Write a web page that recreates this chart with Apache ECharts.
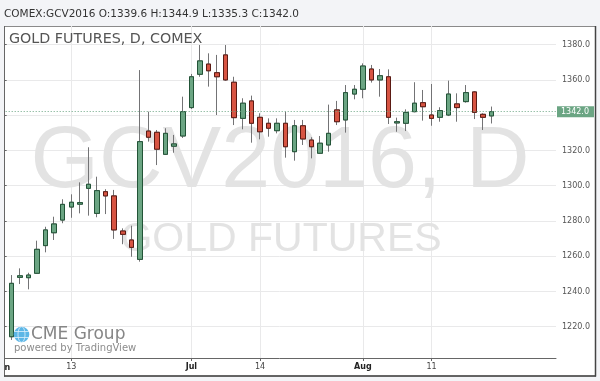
<!DOCTYPE html>
<html><head><meta charset="utf-8">
<script src="https://cdn.jsdelivr.net/npm/echarts@6/dist/echarts.min.js"></script>
<style>html,body{margin:0;padding:0;background:#f3f4f7}#c{width:600px;height:381px}</style>
</head><body><div id="c"></div>
<script>
const symbolName = 'COMEX:GCV2016';
const chartTitle = 'GOLD FUTURES, D, COMEX';
const watermarkMain = 'GCV2016, D';
const watermarkSub = 'GOLD FUTURES';
const dates = [
 '2016-06-01','2016-06-02','2016-06-03','2016-06-06','2016-06-07','2016-06-08','2016-06-09','2016-06-10',
 '2016-06-13','2016-06-14','2016-06-15','2016-06-16','2016-06-17','2016-06-20','2016-06-21','2016-06-22',
 '2016-06-23','2016-06-24','2016-06-27','2016-06-28','2016-06-29','2016-06-30',
 '2016-07-01','2016-07-05','2016-07-06','2016-07-07','2016-07-08','2016-07-11','2016-07-12','2016-07-13',
 '2016-07-14','2016-07-15','2016-07-18','2016-07-19','2016-07-20','2016-07-21','2016-07-22','2016-07-25',
 '2016-07-26','2016-07-27','2016-07-28','2016-07-29',
 '2016-08-01','2016-08-02','2016-08-03','2016-08-04','2016-08-05','2016-08-08','2016-08-09','2016-08-10',
 '2016-08-11','2016-08-12','2016-08-15','2016-08-16','2016-08-17','2016-08-18','2016-08-19','2016-08-22'
];
const opens = [
 1217.5,1214.3,1248.0,1247.8,1250.3,1266.0,1273.3,1280.5,1287.9,1289.5,1298.5,1284.3,1296.6,1294.2,1274.3,1269.2,
 1258.2,1331.0,1330.3,1317.8,1322.4,1328.2,
 1344.3,1363.2,1369.0,1364.1,1374.2,1358.7,1338.2,1348.1,1338.8,1335.4,1331.2,1335.4,1319.3,1334.0,1325.9,1318.4,
 1323.1,1343.0,1337.3,1352.0,
 1354.7,1366.2,1360.0,1361.8,1335.6,1335.4,1342.0,1347.1,1340.1,1338.8,1340.1,1346.4,1347.7,1353.2,1340.5,1339.6
];
const closes = [
 1214.3,1244.6,1248.9,1249.3,1263.9,1274.9,1278.3,1289.4,1290.6,1290.4,1300.8,1297.2,1294.2,1274.9,1272.4,1265.0,
 1325.0,1327.5,1320.7,1329.7,1323.7,1342.0,
 1361.8,1370.8,1365.2,1361.8,1360.0,1338.6,1346.8,1335.4,1330.6,1332.6,1335.4,1322.1,1334.0,1326.5,1322.1,1324.1,
 1329.7,1336.3,1352.8,1354.7,
 1367.9,1360.0,1362.4,1338.8,1336.3,1341.6,1346.8,1344.8,1338.2,1342.6,1352.0,1344.3,1352.8,1341.6,1338.8,1342.0
];
const lows = [
 1212.0,1212.5,1244.2,1241.2,1250.0,1262.2,1269.2,1278.7,1281.8,1284.3,1283.0,1282.1,1283.9,1269.8,1266.8,1259.7,
 1256.9,1325.0,1311.7,1317.4,1318.7,1327.1,
 1343.5,1361.8,1356.2,1340.1,1359.5,1334.4,1332.0,1324.4,1326.3,1327.8,1329.7,1315.9,1314.2,1323.1,1315.5,1318.0,
 1319.3,1334.4,1330.1,1349.0,
 1349.6,1358.5,1350.5,1335.0,1330.6,1331.0,1341.6,1336.9,1334.0,1336.3,1339.5,1336.3,1347.1,1337.8,1331.6,1335.3
];
const highs = [
 1220.0,1249.3,1253.1,1250.6,1268.8,1276.7,1282.4,1292.3,1295.1,1301.9,1321.8,1305.1,1298.0,1297.6,1275.8,1277.3,
 1365.6,1342.0,1331.6,1332.6,1328.8,1350.5,
 1363.4,1379.8,1375.1,1374.2,1379.8,1361.8,1349.6,1351.1,1341.1,1338.2,1338.2,1342.0,1337.3,1337.3,1327.5,1328.2,
 1346.0,1348.1,1357.1,1357.1,
 1369.4,1368.5,1366.2,1366.0,1338.6,1343.3,1358.7,1354.3,1357.7,1344.5,1359.6,1352.4,1357.1,1353.7,1341.1,1344.9
];
const yTicks = [1220, 1240, 1260, 1280, 1300, 1320, 1340, 1360, 1380];
const xTickDates = ['2016-06-01','2016-06-13','2016-07-01','2016-07-14','2016-08-01','2016-08-11'];
const xTickLabels = ['Jun','13','Jul','14','Aug','11'];
const monthLabels = ['Jun','Jul','Aug'];

const UP = '#6ba583', DOWN = '#d75442', UPB = '#225437', DOWNB = '#5b1a13', WICK = '#737375';
const BG = '#f3f4f7';
const FONT = 'DejaVu Sans';

const n = dates.length;
const last = n - 1;
const fullData = dates.map((d, i) => [i, opens[i], closes[i], lows[i], highs[i]]);
const bodyData = dates.map((d, i) => [i, opens[i], closes[i], Math.min(opens[i], closes[i]), Math.max(opens[i], closes[i])]);
const xTickIdx = xTickDates.map(d => dates.indexOf(d));
// the first tick label sits at the clipped left edge; it is drawn separately so that it is cut like the original
const xLabelIdx = xTickIdx.slice(1);
const header = symbolName + ' O:' + opens[last].toFixed(1) + ' H:' + highs[last].toFixed(1) +
  ' L:' + lows[last].toFixed(1) + ' C:' + closes[last].toFixed(1);

const chart = echarts.init(document.getElementById('c'), null, {renderer: 'canvas'});
chart.setOption({
  backgroundColor: BG,
  animation: false,
  grid: {left: 2.7, right: 44, top: 26, bottom: 23, containLabel: false},
  xAxis: {
    type: 'value', min: 0, max: 64.52,
    axisLine: {onZero: false, lineStyle: {color: '#666', width: 1}},
    axisTick: {show: true, length: 3, lineStyle: {color: '#666'}, customValues: xTickIdx},
    axisLabel: {
      customValues: xLabelIdx, margin: 5, fontSize: 8, color: '#444', fontFamily: FONT,
      formatter: v => {
        const k = xTickIdx.indexOf(Math.round(v));
        const t = k >= 0 ? xTickLabels[k] : '';
        return monthLabels.indexOf(t) >= 0 ? '{b|' + t + '}' : t;
      },
      rich: {b: {fontWeight: 'bold', fontSize: 8, color: '#222', fontFamily: FONT}}
    },
    splitLine: {show: true, lineStyle: {color: '#e9e9ea', width: 1}}
  },
  yAxis: {
    type: 'value', position: 'right', min: 1202.24, max: 1390.6, scale: true,
    axisLine: {show: true, lineStyle: {color: '#666', width: 1}},
    axisTick: {show: true, length: 4, lineStyle: {color: '#666'}, customValues: yTicks},
    axisLabel: {customValues: yTicks, margin: 6, fontSize: 8, color: '#555', fontFamily: FONT,
      formatter: v => v.toFixed(1)},
    splitLine: {show: true, lineStyle: {color: '#e9e9ea', width: 1}}
  },
  series: [
    {
      type: 'candlestick', name: 'wick', data: fullData, barWidth: 5,
      encode: {x: 0, y: [1, 2, 3, 4]},
      itemStyle: {color: 'rgba(0,0,0,0)', color0: 'rgba(0,0,0,0)', borderColor: WICK, borderColor0: WICK, borderWidth: 1},
      silent: true
    },
    {
      type: 'candlestick', name: 'body', data: bodyData, barWidth: 5,
      encode: {x: 0, y: [1, 2, 3, 4]},
      itemStyle: {color: UP, color0: DOWN, borderColor: UPB, borderColor0: DOWNB, borderWidth: 1},
      silent: true,
      markLine: {
        silent: true, symbol: ['none', 'none'], animation: false,
        lineStyle: {color: UP, type: [1, 2], width: 1},
        label: {show: true, position: 'end', distance: 1, formatter: p => Number(p.value).toFixed(1),
          backgroundColor: UP, color: '#fff', fontSize: 8, fontFamily: FONT, padding: [1, 5, 1, 4], lineHeight: 9},
        data: [{yAxis: closes[last]}]
      }
    }
  ],
  graphic: [
    {type: 'rect', z: -1, shape: {x: 4.5, y: 26.5, width: 591, height: 349.5}, style: {fill: '#fff', stroke: '#8a8a8a', lineWidth: 1}},
    {type: 'text', z: 1, style: {text: watermarkMain, x: 280, y: 162.5, fill: '#e3e3e3', font: '88px "Liberation Sans"', textAlign: 'center', textVerticalAlign: 'middle'}},
    {type: 'text', z: 1, style: {text: watermarkSub, x: 281, y: 240, fill: '#e3e3e3', font: '41px "Liberation Sans"', textAlign: 'center', textVerticalAlign: 'middle'}},
    {type: 'text', z: 5, style: {text: chartTitle, x: 9, y: 39.5, fill: '#555', font: '14.3px "DejaVu Sans"', textVerticalAlign: 'middle'}},
    {type: 'text', z: 5, style: {text: header, x: 4, y: 14, fill: '#333', font: '10.5px "DejaVu Sans"', textVerticalAlign: 'middle'}},
    {type: 'text', z: 9, style: {text: xTickLabels[0], x: 10.3, y: 367.5, fill: '#222', font: 'bold 8px "DejaVu Sans"', textAlign: 'right', textVerticalAlign: 'middle'}},
    {type: 'circle', z: 5, shape: {cx: 21.5, cy: 334.5, r: 7.8}, style: {fill: '#5cb6e6'}},
    {type: 'ellipse', z: 6, shape: {cx: 21.5, cy: 334.5, rx: 3.5, ry: 7.8}, style: {fill: 'none', stroke: '#dff1fb', lineWidth: 0.8}},
    {type: 'line', z: 6, shape: {x1: 14, y1: 331.5, x2: 29, y2: 331.5}, style: {stroke: '#dff1fb', lineWidth: 0.8}},
    {type: 'line', z: 6, shape: {x1: 14, y1: 337.5, x2: 29, y2: 337.5}, style: {stroke: '#dff1fb', lineWidth: 0.8}},
    {type: 'text', z: 6, style: {text: 'CME Group', x: 31, y: 334.5, fill: '#868686', font: '17px "DejaVu Sans"', textVerticalAlign: 'middle'}},
    {type: 'text', z: 6, style: {text: 'powered by TradingView', x: 14, y: 348, fill: '#8c8c8c', font: '10px "DejaVu Sans"', textVerticalAlign: 'middle'}},
    {type: 'rect', z: 10, shape: {x: 0, y: 20, width: 4, height: 361}, style: {fill: BG}},
    {type: 'line', z: 11, shape: {x1: 4.5, y1: 26, x2: 4.5, y2: 376.5}, style: {stroke: '#666', lineWidth: 1}},
    {type: 'line', z: 11, shape: {x1: 595.5, y1: 26, x2: 595.5, y2: 376.5}, style: {stroke: '#444', lineWidth: 1.5}},
    {type: 'line', z: 11, shape: {x1: 4, y1: 376, x2: 596, y2: 376}, style: {stroke: '#444', lineWidth: 1.5}}
  ]
});
</script></body></html>
